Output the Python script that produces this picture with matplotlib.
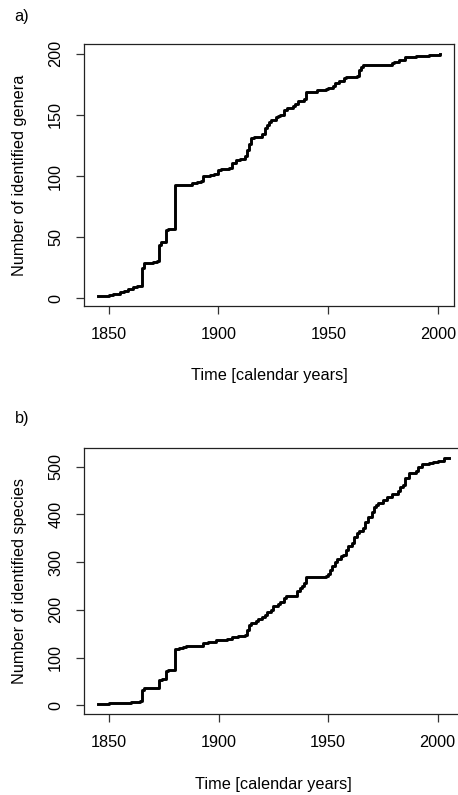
import matplotlib
matplotlib.use("Agg")
import matplotlib.pyplot as plt

plt.rcParams['font.family'] = ['Liberation Sans', 'DejaVu Sans']

# =========================
# Data
# =========================
genera_years = [1845, 1850, 1852, 1855, 1857, 1859, 1861, 1863, 1865, 1866,
                1870, 1872, 1873, 1874, 1876, 1877, 1880, 1888, 1890, 1892,
                1893, 1896, 1898, 1900, 1901, 1905, 1906, 1908, 1910, 1912,
                1913, 1914, 1915, 1916, 1920, 1921, 1922, 1923, 1924, 1926,
                1927, 1928, 1930, 1931, 1934, 1935, 1936, 1939, 1940, 1945,
                1949, 1950, 1952, 1953, 1955, 1957, 1958, 1963, 1964, 1965,
                1966, 1979, 1980, 1982, 1985, 1990, 1996, 2001]
genera_counts = [2, 3, 4, 5, 6, 8, 9, 10, 25, 29,
                 30, 31, 44, 46, 56, 57, 93, 94, 95, 96,
                 100, 101, 102, 105, 106, 107, 111, 113, 114, 116,
                 121, 126, 131, 132, 134, 139, 142, 144, 146, 148,
                 149, 150, 154, 156, 157, 159, 161, 163, 169, 170,
                 171, 172, 174, 176, 178, 180, 181, 182, 187, 189,
                 191, 192, 193, 195, 197, 198, 199, 200]

species_years = [1845, 1850, 1855, 1860, 1864, 1865, 1866, 1873, 1874, 1876,
                 1877, 1880, 1882, 1884, 1885, 1893, 1895, 1899, 1904, 1906,
                 1909, 1912, 1913, 1914, 1915, 1917, 1918, 1920, 1921, 1922,
                 1924, 1925, 1927, 1928, 1930, 1931, 1935, 1936, 1937, 1938,
                 1939, 1940, 1949, 1950, 1951, 1952, 1953, 1954, 1956, 1957,
                 1958, 1959, 1961, 1962, 1963, 1964, 1966, 1967, 1968, 1970,
                 1971, 1972, 1973, 1975, 1977, 1979, 1982, 1983, 1984, 1985,
                 1987, 1990, 1991, 1993, 1996, 1998, 2000, 2003, 2005]
species_counts = [2, 4, 5, 7, 9, 32, 37, 53, 55, 72,
                  74, 118, 120, 122, 125, 131, 133, 137, 139, 144,
                  146, 148, 157, 168, 172, 176, 180, 186, 190, 196,
                  199, 209, 212, 216, 224, 229, 230, 240, 245, 250,
                  257, 269, 271, 276, 283, 292, 300, 307, 313, 316,
                  325, 334, 340, 352, 360, 366, 372, 384, 394, 404,
                  416, 420, 424, 430, 436, 443, 449, 458, 462, 477,
                  486, 491, 500, 505, 508, 510, 512, 518, 519]

x_ticks = [1850, 1900, 1950, 2000]
genera_ticks = [0, 50, 100, 150, 200]
species_ticks = [0, 100, 200, 300, 400, 500]

# =========================
# Figure
# =========================
W, H = 458, 795
FS = 11.7
fig = plt.figure(figsize=(W / 100, H / 100), dpi=100)


def r_range(v):
    # R style axis range: data range + 4% each side
    lo, hi = min(v), max(v)
    d = (hi - lo) * 0.04
    return lo - d, hi + d


def panel(rect, years, counts, yticks, ylabel, tag, tag_y):
    ax = fig.add_axes([rect[0] / W, 1 - rect[3] / H,
                       (rect[2] - rect[0]) / W, (rect[3] - rect[1]) / H])
    ax.plot(years, counts, drawstyle='steps-post', color='black', lw=2.1)
    ax.set_xlim(*r_range(years))
    ax.set_ylim(*r_range(counts))
    ax.set_xticks(x_ticks)
    ax.set_yticks(yticks)
    for s in ax.spines.values():
        s.set_linewidth(0.9)
        s.set_color('#222222')
    ax.tick_params(direction='out', length=5.5, width=0.9, color='#333333',
                   labelsize=FS, pad=9.5)
    ax.tick_params(axis='y', labelrotation=90)
    for lab in ax.get_yticklabels():
        lab.set_verticalalignment('center')
    wpx = rect[2] - rect[0]
    hpx = rect[3] - rect[1]
    ax.set_xlabel("Time [calendar years]", fontsize=FS, va='center')
    ax.xaxis.set_label_coords(0.5, -70 / hpx)
    ax.set_ylabel(ylabel, fontsize=FS, va='center')
    ax.yaxis.set_label_coords(-64.7 / wpx, 0.5)
    fig.text(21.7 / W, 1 - tag_y / H, tag, fontsize=FS, ha='center', va='center')
    return ax


panel((84, 44, 454, 305.7), genera_years, genera_counts, genera_ticks,
      "Number of identified genera", "a)", 16)
panel((84, 447.7, 462.6, 714.3), species_years, species_counts, species_ticks,
      "Number of identified species", "b)", 418)

plt.savefig("out.png", dpi=100)
plt.close()
